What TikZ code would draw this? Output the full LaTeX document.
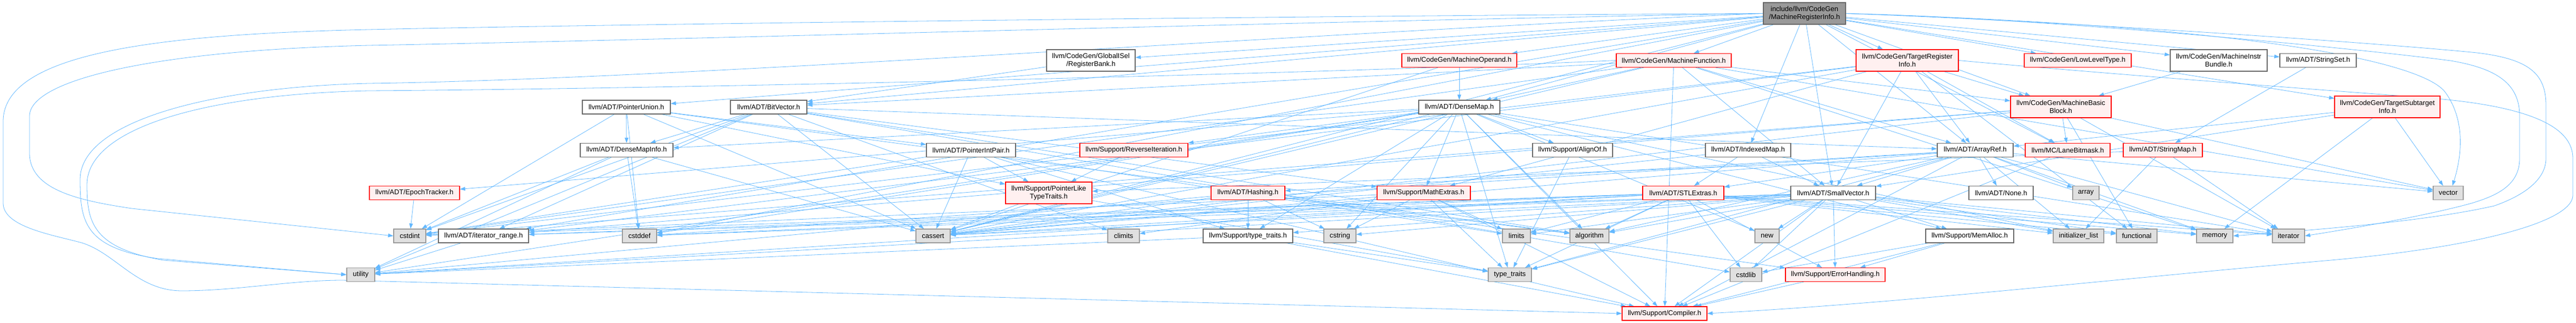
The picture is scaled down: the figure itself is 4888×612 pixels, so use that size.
\documentclass[tikz,border=0pt]{standalone}
\usepackage{fontspec}
\setmainfont{Liberation Sans}
\usetikzlibrary{arrows.meta}
\definecolor{edgec}{HTML}{63B8FF}
\definecolor{wbord}{HTML}{666666}
\definecolor{rfill}{HTML}{FFF0F0}
\definecolor{rbord}{HTML}{FF0000}
\definecolor{gfill}{HTML}{E0E0E0}
\definecolor{gbord}{HTML}{999999}
\definecolor{tfill}{HTML}{999999}
\definecolor{tbord}{HTML}{666666}
\pgfdeclarelayer{background}
\pgfsetlayers{background,main}
\newcommand\mkbox[7]{\node[#1, minimum width={#4-#3}, minimum height=#6] (#2) at ({(#3+#4)/2},{-#5}) {#7};}
\begin{document}
\begin{tikzpicture}[x=1pt,y=1pt,
  nbox/.style={draw, rectangle, inner sep=0pt, align=center, line width=1.2pt, font=\fontsize{13.1}{15}\selectfont, text=black},
  wbox/.style={nbox, fill=white, draw=wbord},
  rbox/.style={nbox, fill=rfill, draw=rbord},
  gbox/.style={nbox, fill=gfill, draw=gbord},
  tbox/.style={nbox, fill=tfill, draw=tbord},
  lnk/.style={draw=edgec, line width=0.8pt, -{Triangle[length=10pt,width=7pt]}}]
\useasboundingbox (0,0) rectangle (4888,-612);
% nodes
\mkbox{tbox}{root}{3346}{3502}{25.5}{41}{include/llvm/CodeGen\\/MachineRegisterInfo.h}
\mkbox{wbox}{rb}{1986}{2154}{114.5}{41}{llvm/CodeGen/GlobalISel\\/RegisterBank.h}
\mkbox{rbox}{mop}{2660}{2878}{114.5}{26}{llvm/CodeGen/MachineOperand.h}
\mkbox{rbox}{mf}{3067}{3285}{114.5}{26}{llvm/CodeGen/MachineFunction.h}
\mkbox{rbox}{tri}{3522}{3716}{114.5}{41}{llvm/CodeGen/TargetRegister\\Info.h}
\mkbox{rbox}{llt}{3841}{4044}{114.5}{26}{llvm/CodeGen/LowLevelType.h}
\mkbox{wbox}{mib}{4118}{4302}{114.5}{41}{llvm/CodeGen/MachineInstr\\Bundle.h}
\mkbox{wbox}{sset}{4326}{4471}{114.5}{26}{llvm/ADT/StringSet.h}
\mkbox{wbox}{pu}{1105}{1272}{203}{26}{llvm/ADT/PointerUnion.h}
\mkbox{wbox}{bv}{1386}{1531}{203}{26}{llvm/ADT/BitVector.h}
\mkbox{wbox}{dm}{2692}{2846}{203}{26}{llvm/ADT/DenseMap.h}
\mkbox{rbox}{mbb}{3815}{4006}{202.5}{41}{llvm/CodeGen/MachineBasic\\Block.h}
\mkbox{rbox}{tsi}{4430}{4630}{202.5}{41}{llvm/CodeGen/TargetSubtarget\\Info.h}
\mkbox{wbox}{dmi}{1101}{1277}{284.5}{26}{llvm/ADT/DenseMapInfo.h}
\mkbox{wbox}{pip}{1758}{1927}{284.5}{26}{llvm/ADT/PointerIntPair.h}
\mkbox{rbox}{rev}{2049}{2254}{284.5}{26}{llvm/Support/ReverseIteration.h}
\mkbox{wbox}{alignof}{2908}{3060}{284.5}{26}{llvm/Support/AlignOf.h}
\mkbox{wbox}{imap}{3236}{3398}{284.5}{26}{llvm/ADT/IndexedMap.h}
\mkbox{wbox}{aref}{3676}{3820}{284.5}{26}{llvm/ADT/ArrayRef.h}
\mkbox{rbox}{lane}{3843}{4004}{284.5}{26}{llvm/MC/LaneBitmask.h}
\mkbox{rbox}{smap}{4029}{4179}{284.5}{26}{llvm/ADT/StringMap.h}
\mkbox{rbox}{epoch}{701}{872}{365.5}{26}{llvm/ADT/EpochTracker.h}
\mkbox{rbox}{pltt}{1908}{2072}{365.5}{41}{llvm/Support/PointerLike\\TypeTraits.h}
\mkbox{rbox}{hash}{2298}{2438}{365.5}{26}{llvm/ADT/Hashing.h}
\mkbox{rbox}{mext}{2613}{2790}{365.5}{26}{llvm/Support/MathExtras.h}
\mkbox{rbox}{stl}{3117}{3271}{365.5}{26}{llvm/ADT/STLExtras.h}
\mkbox{wbox}{svec}{3398}{3559}{365.5}{26}{llvm/ADT/SmallVector.h}
\mkbox{wbox}{none}{3736}{3858}{365.5}{26}{llvm/ADT/None.h}
\mkbox{gbox}{arr}{3933}{3983}{365.5}{26}{array}
\mkbox{gbox}{vec}{4617}{4674}{365.5}{26}{vector}
\mkbox{gbox}{cstdint}{747}{808}{447}{26}{cstdint}
\mkbox{wbox}{itr}{832}{1003}{447}{26}{llvm/ADT/iterator\_range.h}
\mkbox{gbox}{cstddef}{1181}{1246}{447}{26}{cstddef}
\mkbox{gbox}{cassert}{1738}{1803}{447}{26}{cassert}
\mkbox{gbox}{climits}{2102}{2162}{447}{26}{climits}
\mkbox{wbox}{stt}{2283}{2453}{447}{26}{llvm/Support/type\_traits.h}
\mkbox{gbox}{cstring}{2512}{2573}{447}{26}{cstring}
\mkbox{gbox}{limits}{2851}{2904}{447}{26}{limits}
\mkbox{gbox}{algo}{2979}{3053}{447}{26}{algorithm}
\mkbox{gbox}{cnew}{3330}{3376}{447}{26}{new}
\mkbox{wbox}{malloc}{3654}{3821}{447}{26}{llvm/Support/MemAlloc.h}
\mkbox{gbox}{initl}{3896}{3992}{447}{26}{initializer\_list}
\mkbox{gbox}{functional}{4016}{4093}{447}{26}{functional}
\mkbox{gbox}{memory}{4168}{4237}{447}{26}{memory}
\mkbox{gbox}{iterator}{4312}{4373}{447}{26}{iterator}
\mkbox{gbox}{utility}{658}{711}{520.5}{26}{utility}
\mkbox{gbox}{tt}{2824}{2906}{520.5}{26}{type\_traits}
\mkbox{gbox}{cstdlib}{3283}{3343}{520.5}{26}{cstdlib}
\mkbox{rbox}{err}{3388}{3577}{520.5}{26}{llvm/Support/ErrorHandling.h}
\mkbox{rbox}{comp}{3078}{3239}{594}{26}{llvm/Support/Compiler.h}
% edges
\begin{pgfonlayer}{background}
% loops round the left side
\draw[lnk] (root.west) .. controls (2500,-30) and (1200,-45) .. (700,-56) .. controls (300,-65) and (6,-100) .. (6,-230) -- (6,-385) .. controls (6,-430) and (100,-445) .. (155,-460) .. controls (220,-480) and (260,-551) .. (345,-551) .. controls (450,-551) and (550,-531) .. (650,-531) -- (comp.west);
\draw[lnk] (root.west) .. controls (2500,-40) and (1300,-75) .. (700,-86) .. controls (300,-95) and (56,-150) .. (56,-220) -- (56,-290) .. controls (56,-360) and (150,-380) .. (250,-395) -- (cstdint.west);
\draw[lnk] (root.west) .. controls (2500,-60) and (1300,-150) .. (700,-158) .. controls (400,-165) and (152,-230) .. (152,-340) .. controls (152,-420) and (160,-470) .. (300,-490) -- (utility.west);
\draw[lnk] (mf.west) .. controls (2500,-140) and (1300,-168) .. (700,-172) .. controls (400,-178) and (165,-240) .. (165,-350) .. controls (165,-420) and (175,-470) .. (310,-493) -- (utility.west);
% loops round the right side
\draw[lnk] (root.east) .. controls (3900,-40) and (4500,-80) .. (4700,-100) .. controls (4800,-112) and (4831,-140) .. (4831,-200) -- (4831,-300) .. controls (4831,-340) and (4790,-370) .. (4733,-390) .. controls (4600,-420) and (4400,-435) .. (memory.east);
\draw[lnk] (root.east) .. controls (3900,-35) and (4500,-95) .. (4650,-115) .. controls (4740,-130) and (4781,-160) .. (4781,-220) -- (4781,-300) .. controls (4781,-350) and (4740,-370) .. (4690,-385) .. controls (4600,-410) and (4450,-435) .. (iterator.east);
\draw[lnk] (tri.east) .. controls (4000,-140) and (4400,-170) .. (4600,-185) .. controls (4800,-200) and (4882,-240) .. (4882,-300) -- (4882,-370) .. controls (4882,-420) and (4700,-470) .. (4400,-495) .. controls (4000,-530) and (3600,-575) .. (comp.east);
\draw[lnk] (root.east) .. controls (4300,-50) and (4600,-120) .. (4640,-175) .. controls (4680,-230) and (4670,-300) .. ([xshift=8pt]vec.north);
% straight connectors
\foreach \t in {aref,bv,dm,imap,pu,svec,sset,itr,rb,llt,mbb,mf,mib,mop,tri,tsi,lane,cassert,cstddef}
  \draw[lnk] (root) -- (\t);
\draw[lnk] (rb) -- (bv);
\draw[lnk] (mib) -- (mbb);
\draw[lnk] (sset) -- (smap);
\foreach \t in {dm,cassert} \draw[lnk] (mop) -- (\t);
\foreach \t in {aref,bv,dm,svec,mbb,comp,cassert,cstdint,memory,vec} \draw[lnk] (mf) -- (\t);
\foreach \t in {aref,svec,itr,mbb,lane,mext,cassert,cstdint,functional} \draw[lnk] (tri) -- (\t);
\foreach \t in {lane,itr,cassert,cstdint,functional,iterator,vec} \draw[lnk] (mbb) -- (\t);
\foreach \t in {aref,svec,memory,vec} \draw[lnk] (tsi) -- (\t);
\foreach \t in {aref,dmi,itr,mext,algo,cassert,climits,cstdint,cstdlib,utility} \draw[lnk] (bv) -- (\t);
\foreach \t in {dmi,pip,pltt,algo,cassert,cstddef,cstdint} \draw[lnk] (pu) -- (\t);
\foreach \t in {dmi,epoch,alignof,comp,mext,malloc,rev,stt,algo,cassert,cstddef,cstring,initl,iterator,cnew,tt,utility} \draw[lnk] (dm) -- (\t);
\foreach \t in {cassert,cstddef,cstdint,utility} \draw[lnk] (dmi) -- (\t);
\foreach \t in {pltt,stt,comp,cassert,cstdint,limits} \draw[lnk] (pip) -- (\t);
\draw[lnk] (rev) -- (pltt);
\draw[lnk] (alignof) -- (tt);
\foreach \t in {stl,svec,cassert} \draw[lnk] (imap) -- (\t);
\foreach \t in {hash,none,svec,stl,comp,algo,arr,cassert,cstddef,initl,iterator,memory,tt,vec} \draw[lnk] (aref) -- (\t);
\draw[lnk] (lane) -- (comp);
\foreach \t in {pltt,initl,iterator} \draw[lnk] (smap) -- (\t);
\draw[lnk] (epoch) -- (cstdint);
\foreach \t in {cassert,tt} \draw[lnk] (pltt) -- (\t);
\foreach \t in {err,stt,algo,cassert,cstring,utility} \draw[lnk] (hash) -- (\t);
\foreach \t in {comp,cassert,climits,cstdint,cstring,limits,tt} \draw[lnk] (mext) -- (\t);
\foreach \t in {itr,err,algo,cassert,cstddef,cstdint,cstdlib,functional,initl,iterator,limits,memory,tt,utility} \draw[lnk] (stl) -- (\t);
\foreach \t in {itr,comp,err,malloc,stt,algo,cassert,cstddef,cstdlib,cstring,functional,initl,iterator,limits,memory,cnew,tt,utility} \draw[lnk] (svec) -- (\t);
\draw[lnk] (itr) -- (utility);
\foreach \t in {comp,tt,utility} \draw[lnk] (stt) -- (\t);
\foreach \t in {comp,err,cstdlib} \draw[lnk] (malloc) -- (\t);
\draw[lnk] (err) -- (comp);
\end{pgfonlayer}
\end{tikzpicture}
\end{document}
